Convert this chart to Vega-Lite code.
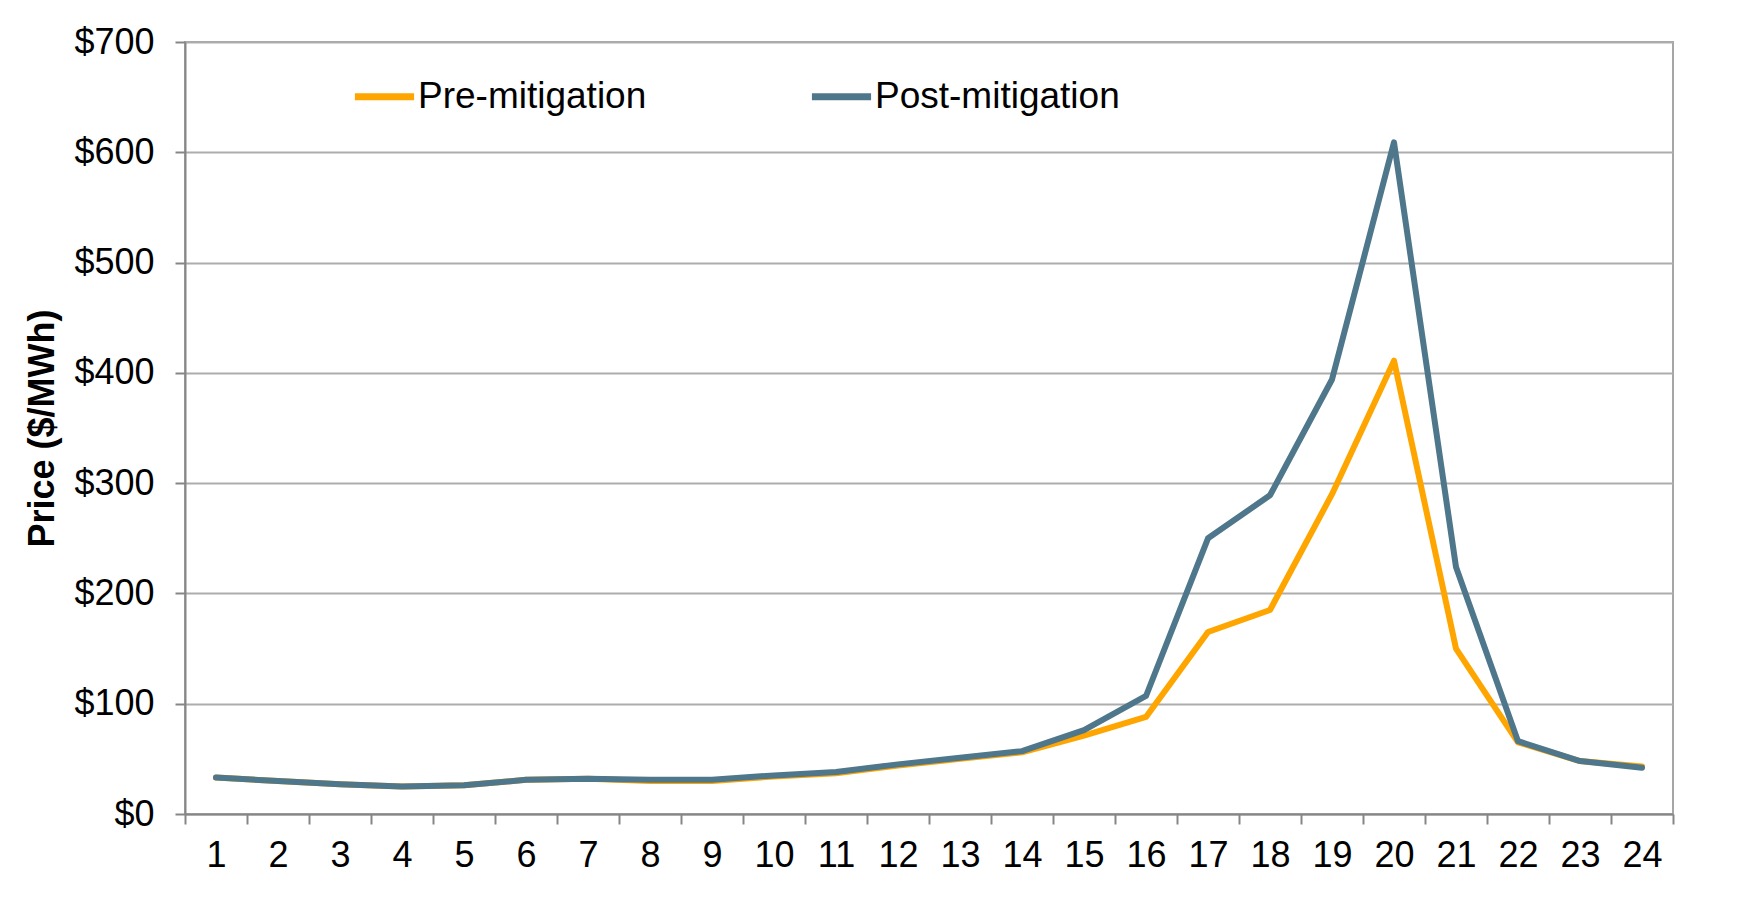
{
  "$schema": "https://vega.github.io/schema/vega-lite/v6.json",
  "width": 1488,
  "height": 772,
  "autosize": {"type": "none"},
  "padding": {"left": 185, "top": 42, "right": 66, "bottom": 102},
  "background": "white",
  "config": {
    "font": "Liberation Sans",
    "view": {"stroke": "#A6A6A6", "strokeWidth": 2},
    "axis": {"labelFont": "Liberation Sans", "titleFont": "Liberation Sans"}
  },
  "data": {
    "values": [
      {"hour": 1, "series": "Pre-mitigation", "price": 33},
      {"hour": 2, "series": "Pre-mitigation", "price": 30},
      {"hour": 3, "series": "Pre-mitigation", "price": 27},
      {"hour": 4, "series": "Pre-mitigation", "price": 25},
      {"hour": 5, "series": "Pre-mitigation", "price": 26},
      {"hour": 6, "series": "Pre-mitigation", "price": 31},
      {"hour": 7, "series": "Pre-mitigation", "price": 32},
      {"hour": 8, "series": "Pre-mitigation", "price": 30},
      {"hour": 9, "series": "Pre-mitigation", "price": 30},
      {"hour": 10, "series": "Pre-mitigation", "price": 34},
      {"hour": 11, "series": "Pre-mitigation", "price": 37},
      {"hour": 12, "series": "Pre-mitigation", "price": 44},
      {"hour": 13, "series": "Pre-mitigation", "price": 50},
      {"hour": 14, "series": "Pre-mitigation", "price": 56},
      {"hour": 15, "series": "Pre-mitigation", "price": 71},
      {"hour": 16, "series": "Pre-mitigation", "price": 88},
      {"hour": 17, "series": "Pre-mitigation", "price": 165},
      {"hour": 18, "series": "Pre-mitigation", "price": 185},
      {"hour": 19, "series": "Pre-mitigation", "price": 290},
      {"hour": 20, "series": "Pre-mitigation", "price": 411},
      {"hour": 21, "series": "Pre-mitigation", "price": 150},
      {"hour": 22, "series": "Pre-mitigation", "price": 65},
      {"hour": 23, "series": "Pre-mitigation", "price": 48},
      {"hour": 24, "series": "Pre-mitigation", "price": 43},
      {"hour": 1, "series": "Post-mitigation", "price": 33},
      {"hour": 2, "series": "Post-mitigation", "price": 30},
      {"hour": 3, "series": "Post-mitigation", "price": 27},
      {"hour": 4, "series": "Post-mitigation", "price": 25},
      {"hour": 5, "series": "Post-mitigation", "price": 26},
      {"hour": 6, "series": "Post-mitigation", "price": 31},
      {"hour": 7, "series": "Post-mitigation", "price": 32},
      {"hour": 8, "series": "Post-mitigation", "price": 31},
      {"hour": 9, "series": "Post-mitigation", "price": 31},
      {"hour": 10, "series": "Post-mitigation", "price": 35},
      {"hour": 11, "series": "Post-mitigation", "price": 38},
      {"hour": 12, "series": "Post-mitigation", "price": 45},
      {"hour": 13, "series": "Post-mitigation", "price": 51},
      {"hour": 14, "series": "Post-mitigation", "price": 57},
      {"hour": 15, "series": "Post-mitigation", "price": 76},
      {"hour": 16, "series": "Post-mitigation", "price": 107},
      {"hour": 17, "series": "Post-mitigation", "price": 250},
      {"hour": 18, "series": "Post-mitigation", "price": 289},
      {"hour": 19, "series": "Post-mitigation", "price": 394},
      {"hour": 20, "series": "Post-mitigation", "price": 609},
      {"hour": 21, "series": "Post-mitigation", "price": 224},
      {"hour": 22, "series": "Post-mitigation", "price": 66},
      {"hour": 23, "series": "Post-mitigation", "price": 48},
      {"hour": 24, "series": "Post-mitigation", "price": 42}
    ]
  },
  "mark": {"type": "line", "strokeWidth": 6, "strokeCap": "round", "strokeJoin": "round"},
  "encoding": {
    "x": {
      "field": "hour",
      "type": "quantitative",
      "scale": {"domain": [0.5, 24.5], "nice": false, "zero": false},
      "axis": {
        "title": null,
        "values": [0.5, 1.5, 2.5, 3.5, 4.5, 5.5, 6.5, 7.5, 8.5, 9.5, 10.5, 11.5, 12.5, 13.5, 14.5, 15.5, 16.5, 17.5, 18.5, 19.5, 20.5, 21.5, 22.5, 23.5, 24.5],
        "labelExpr": "datum.value < 24 ? format(datum.value + 0.5, 'd') : ''",
        "labelOffset": 31,
        "labelFontSize": 36,
        "labelColor": "#000000",
        "labelPadding": 14,
        "labelFlush": false,
        "labelOverlap": false,
        "grid": false,
        "ticks": true,
        "tickSize": 10,
        "tickColor": "#868686",
        "tickWidth": 2,
        "domainColor": "#868686",
        "domainWidth": 2
      }
    },
    "y": {
      "field": "price",
      "type": "quantitative",
      "scale": {"domain": [0, 700], "nice": false},
      "axis": {
        "title": "Price ($/MWh)",
        "titleFontSize": 36,
        "titleFontWeight": "bold",
        "titleColor": "#000000",
        "titleX": -143,
        "titleBaseline": "middle",
        "titleAlign": "center",
        "values": [0, 100, 200, 300, 400, 500, 600, 700],
        "labelExpr": "'$' + datum.value",
        "labelFontSize": 36,
        "labelColor": "#000000",
        "labelPadding": 21,
        "grid": true,
        "gridColor": "#ADADAD",
        "gridWidth": 2,
        "tickSize": 10,
        "tickColor": "#868686",
        "tickWidth": 2,
        "domainColor": "#868686",
        "domainWidth": 2
      }
    },
    "color": {
      "field": "series",
      "type": "nominal",
      "scale": {"domain": ["Pre-mitigation", "Post-mitigation"], "range": ["#FFA500", "#4F778B"]},
      "legend": {
        "title": null,
        "orient": "none",
        "legendX": 166,
        "legendY": 21,
        "direction": "horizontal",
        "symbolType": "stroke",
        "symbolSize": 3500,
        "symbolStrokeWidth": 7,
        "labelFontSize": 37,
        "labelColor": "#000000",
        "labelOffset": 0,
        "columnPadding": 150,
        "labelLimit": 400
      }
    },
    "order": {"field": "hour", "type": "quantitative"}
  }
}
